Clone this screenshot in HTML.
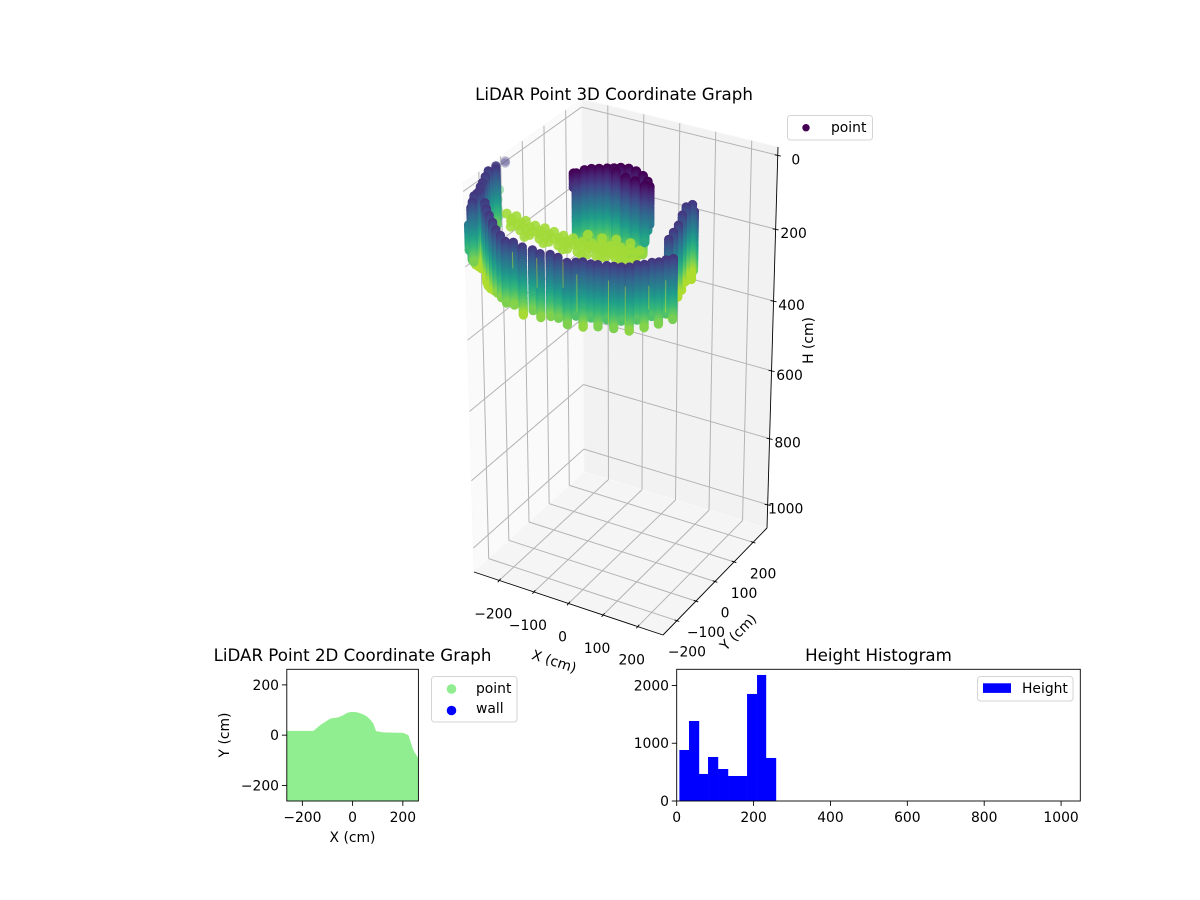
<!DOCTYPE html>
<html>
<head>
<meta charset="utf-8">
<title>LiDAR Point Graphs</title>
<style>
html,body{margin:0;padding:0;background:#fff;}
svg{display:block;}
text{font-family:"DejaVu Sans","Liberation Sans",sans-serif;fill:#000;}
</style>
</head>
<body>
<svg id="fig" xmlns="http://www.w3.org/2000/svg" width="1200" height="900" viewBox="0 0 1200 900">
<rect x="0" y="0" width="1200" height="900" fill="#fff"/>
<g id="g3d"></g>
<text x="614" y="100" font-size="16.67" text-anchor="middle">LiDAR Point 3D Coordinate Graph</text>
<g>
<rect x="787.5" y="115.5" width="85" height="24.5" rx="3" fill="#fff" fill-opacity="0.8" stroke="#d5d5d5"/>
<circle cx="806" cy="127.7" r="3.7" fill="#440154"/>
<text x="831" y="132" font-size="13.89">point</text>
</g>
<text x="554" y="666" font-size="13.89" text-anchor="middle" transform="rotate(18 554 662)">X (cm)</text>
<text x="738" y="637" font-size="13.89" text-anchor="middle" transform="rotate(-45 738 632)">Y (cm)</text>
<text x="813" y="340.5" font-size="13.89" text-anchor="middle" transform="rotate(-90 813 340.5)">H (cm)</text>

<g id="g2d"></g>
<text x="352.5" y="661" font-size="16.67" text-anchor="middle">LiDAR Point 2D Coordinate Graph</text>
<text x="352.5" y="842" font-size="13.89" text-anchor="middle">X (cm)</text>
<text x="229" y="735" font-size="13.89" text-anchor="middle" transform="rotate(-90 229 735)">Y (cm)</text>
<g>
<rect x="431.5" y="676.5" width="85.5" height="45.5" rx="3" fill="#fff" fill-opacity="0.8" stroke="#d5d5d5"/>
<circle cx="451.5" cy="689" r="4.8" fill="#90ee90"/>
<text x="476" y="693" font-size="13.89">point</text>
<circle cx="451.5" cy="710.5" r="4.8" fill="#0000ff"/>
<text x="476" y="713" font-size="13.89">wall</text>
</g>

<g id="ghist"></g>
<text x="878.5" y="661" font-size="16.67" text-anchor="middle">Height Histogram</text>
<g>
<rect x="977.5" y="676.5" width="95.5" height="24.5" rx="3" fill="#fff" fill-opacity="0.8" stroke="#d5d5d5"/>
<rect x="983" y="683.3" width="28" height="9.6" fill="#0000ff"/>
<text x="1022" y="693" font-size="13.89">Height</text>
</g>
</svg>
<script>
/* ---------- 3D chart data ---------- */
const xTicks3d = [-200, -100, 0, 100, 200];
const yTicks3d = [-200, -100, 0, 100, 200];
const zTicks3d = [0, 200, 400, 600, 800, 1000];

/* rear scan columns: x, y, top height, bottom height (cm) */
const rearX   = [-103, -98, -90, -79, -64, -48, -35, -22, -4, 19, 45, 70, 87, -21, 14, 43, 75];
const rearY   = [-52, -48, -23, -9, 1, 12, 21, 31, 37, 33, 20, -1, -22, 6, -9, -14, -24];
const rearTop = [0, 0, 0, 0, 0, 0, 0, 0, 0, 0, 0, 0, 0, 0, 0, 0, 0];
const rearBot = [37, 185, 195, 205, 215, 222, 230, 235, 238, 232, 210, 130, 100, 205, 205, 195, 150];

/* low floor-level return points */
const floorX = [-390, -366, -339, -318,
  -349, -322, -290, -258, -231, -202, -173, -146, -117, -93, -71, -47, -23, 1, 25,
  -319, -270, -226, -185, -144, -105, -68, -34, -3,
  -125, -86, -53, -14,
  -295, -248, -205, -164, -125, -86, -51, -18,
  -250, -194, -138, -85, -38, 8,
  -325, -296, -264, -234, -206, -177, -150, -121, -95, -72, -49, -25, -1, 23,
  -305, -276, -244, -214, -186, -157, -130, -101, -75, -52, -29, -5, 19, 43];
const floorY = [83, 36, -9, -38,
  48, 48, 38, 28, 28, 22, 17, 17, 12, 16, 25, 29, 33, 37, 41,
  18, 1, -7, -10, -13, -12, -5, 5, 21,
  51, 52, 63, 64,
  9, -3, -8, -11, -12, -8, 0, 13,
  -36, -42, -47, -49, -35, -23,
  30, 25, 15, 10, 7, 2, -1, -3, -4, 2, 9, 13, 17, 21,
  -7, -12, -22, -27, -30, -35, -38, -40, -41, -35, -28, -24, -20, -16];
const floorH = [175, 175, 175, 175,
  215, 215, 215, 215, 215, 215, 215, 215, 215, 215, 215, 215, 215, 215, 215,
  215, 215, 215, 215, 215, 215, 215, 215, 215,
  215, 215, 215, 215,
  215, 215, 215, 215, 215, 215, 215, 215,
  215, 215, 215, 215, 215, 215,
  215, 215, 215, 215, 215, 215, 215, 215, 215, 215, 215, 215, 215, 215,
  215, 215, 215, 215, 215, 215, 215, 215, 215, 215, 215, 215, 215, 215];

/* near wall scan columns */
const wallX   = [-317, -322, -312, -323, -313, -302, -295, -285, -283, -282, -256, -277, -269, -242, -222, -200, -174, -148, -124,
                 205, 183, 176, 189, 207, 215, 223,
                 -99, -81, -51, -24, 1, 23, 46,
                 93, 127, 163, 196, 222, 246, 268,
                 76, 106, 143, 179, 212, 236, 259, 280];
const wallY   = [-6, -41, -58, -74, -105, -136, -158, -180, -195, -210, -269, -246, -240, -228, -255, -281, -310, -340, -361,
                 -14, 16, -2, -44, -95, -134, -172,
                 -382, -376, -387, -387, -395, -386, -390,
                 -389, -378, -366, -355, -325, -296, -268,
                 -401, -379, -373, -361, -345, -315, -286, -253];
const wallTop = [40, 40, 40, 40, 40, 40, 40, 40, 40, 40, 40, 100, 40, 40, 40, 40, 40, 40, 40,
                 40, 40, 40, 40, 40, 40, 40,
                 40, 40, 40, 40, 40, 40, 40,
                 40, 40, 40, 40, 40, 40, 40,
                 40, 40, 40, 40, 40, 40, 40, 40];
const wallBot = [45, 175, 190, 214, 214, 214, 225, 248, 236, 224, 178, 168, 200, 253, 245, 235, 220, 206, 203,
                 196, 240, 240, 240, 230, 230, 237,
                 201, 204, 217, 198, 206, 201, 198,
                 180, 180, 180, 180, 183, 180, 180,
                 201, 209, 201, 201, 206, 204, 201, 198];

/* bright returns showing between neighbouring wall columns */
const streakX   = [105, 166, 199, 245, 278, 28, -18, 78];
const streakY   = [-406, -363, -341, -309, -286, -459, -491, -424];
const streakTop = [61, 79, 95, 95, 82, 17, 1, 27];
const streakBot = [157, 191, 198, 157, 165, 95, 43, 95];

/* ---------- 2D chart data ---------- */
const xTicks2d = [-200, 0, 200];
const yTicks2d = [-200, 0, 200];
const outlineX = [-262, -156, -129, -89, -56, -40, -23, -8, 5, 17, 30, 45, 56, 70, 83, 93, 122, 202, 222, 242, 262];
const outlineY = [17, 17, 40, 66, 71, 78, 88, 92, 92, 91, 87, 81, 75, 62, 46, 16, 11, 9, 0, -60, -93];

/* ---------- histogram data ---------- */
const histEdges  = [7, 32, 58, 81.5, 107.5, 133.5, 157.7, 183, 209, 232.3, 258.3];
const histCounts = [883, 1385, 468, 762, 554, 433, 433, 1853, 2182, 745];
const histXTicks = [0, 200, 400, 600, 800, 1000];
const histYTicks = [0, 1000, 2000];

/* ---------- helpers ---------- */
const NS = 'http://www.w3.org/2000/svg';
function mk(tag, attrs, parent) {
  const el = document.createElementNS(NS, tag);
  for (const k in attrs) el.setAttribute(k, attrs[k]);
  parent.appendChild(el);
  return el;
}
const g3d = document.getElementById('g3d');
const g2d = document.getElementById('g2d');
const gh = document.getElementById('ghist');
const fmt = v => String(v).replace('-', '\u2212');

/* ---------- 3D projection ---------- */
const xLo = -273, xHi = 273, yLo = -273, yHi = 273, zLo = -22, zHi = 1072;
const T00 = [463, 183], T10 = [667, 237], T01 = [581.5, 99], T11 = [778, 147];
const B00 = [474, 572], B10 = [663, 635], B01 = [584, 472], B11 = [767, 528];
function bil(a, b, c, d, u, v, i) {
  return a[i] * (1 - u) * (1 - v) + b[i] * u * (1 - v) + c[i] * (1 - u) * v + d[i] * u * v;
}
function project(x, y, z) {
  const u = (x - xLo) / (xHi - xLo);
  const v = (y - yLo) / (yHi - yLo);
  const t = (z - zLo) / (zHi - zLo);
  const s = t * 1.08 / (t * 1.08 + 1 - t);
  const out = [];
  for (let i = 0; i < 2; i++) {
    const top = bil(T00, T10, T01, T11, u, v, i);
    const bot = bil(B00, B10, B01, B11, u, v, i);
    out.push(top * (1 - s) + bot * s);
  }
  return out;
}
function poly3d(pts, fill, name) {
  const p = pts.map(q => project(q[0], q[1], q[2]).map(n => n.toFixed(1)).join(',')).join(' ');
  const el = mk('polygon', { points: p, fill: fill, stroke: '#f8f8f8', 'stroke-width': 0.8 }, g3d);
  
  
}
poly3d([[xLo, yLo, zLo], [xLo, yHi, zLo], [xLo, yHi, zHi], [xLo, yLo, zHi]], '#fafafa', 'left-pane');
poly3d([[xLo, yHi, zLo], [xHi, yHi, zLo], [xHi, yHi, zHi], [xLo, yHi, zHi]], '#f2f2f2', 'back-pane');
poly3d([[xLo, yLo, zHi], [xHi, yLo, zHi], [xHi, yHi, zHi], [xLo, yHi, zHi]], '#f5f5f5', 'floor-pane');

function line3d(a, b, stroke, w, name) {
  const p = project(a[0], a[1], a[2]);
  const q = project(b[0], b[1], b[2]);
  const el = mk('line', { x1: p[0], y1: p[1], x2: q[0], y2: q[1], stroke: stroke, 'stroke-width': w }, g3d);
  
  
}
xTicks3d.forEach(x => {
  line3d([x, yLo, zHi], [x, yHi, zHi], '#b4b4b4', 1, 'x-gridline-floor');
  line3d([x, yHi, zHi], [x, yHi, zLo], '#b4b4b4', 1, 'x-gridline-wall');
});
yTicks3d.forEach(y => {
  line3d([xLo, y, zHi], [xHi, y, zHi], '#b4b4b4', 1, 'y-gridline-floor');
  line3d([xLo, y, zHi], [xLo, y, zLo], '#b4b4b4', 1, 'y-gridline-wall');
});
zTicks3d.forEach(z => {
  line3d([xLo, yHi, z], [xHi, yHi, z], '#b4b4b4', 1, 'z-gridline-back');
  line3d([xLo, yHi, z], [xLo, yLo, z], '#b4b4b4', 1, 'z-gridline-left');
});
line3d([xLo, yLo, zHi], [xHi, yLo, zHi], '#000', 0.9, 'x-axis-line-3d');
line3d([xHi, yLo, zHi], [xHi, yHi, zHi], '#000', 0.9, 'y-axis-line-3d');
line3d([xHi, yHi, zHi], [xHi, yHi, zLo], '#000', 0.9, 'z-axis-line-3d');

function label3d(p, txt, name) {
  const el = mk('text', { x: p[0], y: p[1] + 5, 'font-size': 13.89, 'text-anchor': 'middle' }, g3d);
  el.textContent = txt;
  
  
}
function tick3d(p, dx, dy, name) {
  const el = mk('line', { x1: p[0] - dx, y1: p[1] - dy, x2: p[0] + dx, y2: p[1] + dy, stroke: '#000', 'stroke-width': 0.9 }, g3d);
  
  
}
xTicks3d.forEach(x => {
  const p = project(x, yLo, zHi);
  tick3d(p, 1.5, -1.8, 'x-tick-3d');
  label3d([p[0] - 6, p[1] + 33], fmt(x), 'x-tick-label-3d');
});
yTicks3d.forEach(y => {
  const p = project(xHi, y, zHi);
  tick3d(p, 2.3, 0.8, 'y-tick-3d');
  label3d([p[0] + 10, p[1] + 31], fmt(y), 'y-tick-label-3d');
});
zTicks3d.forEach(z => {
  const p = project(xHi, yHi, z);
  tick3d([p[0], p[1] + 0.2], 3, 0.6, 'z-tick-3d');
  label3d([p[0] + 18, p[1] + 4], fmt(z), 'z-tick-label-3d');
});

/* viridis colour scale */
const viridis = [[68,1,84],[72,40,120],[62,74,137],[49,104,142],[38,130,142],[31,158,137],[53,183,121],[109,205,89],[180,222,44],[253,231,37]];
const colorMax = 250;
function color(h) {
  const t = Math.max(0, Math.min(0.88, h / colorMax)) * (viridis.length - 1);
  const i = Math.min(viridis.length - 2, Math.floor(t));
  const f = t - i;
  const c = [0, 1, 2].map(k => Math.round(viridis[i][k] * (1 - f) + viridis[i + 1][k] * f));
  return 'rgb(' + c.join(',') + ')';
}
function alphaFor(x, y) {
  return Math.max(0.35, Math.min(1, 0.35 + (x - y + 311) * 0.018));
}
const cloud = mk('g', {}, g3d);


function dot(x, y, h, r, a) {
  const p = project(x, y, h);
  const el = mk('circle', { cx: p[0].toFixed(1), cy: p[1].toFixed(1), r: r, fill: color(h), 'fill-opacity': a }, cloud);
  
  
}
const hStep = 6;
function column(x, y, top, bot, r) {
  const a = alphaFor(x, y);
  for (let h = top; h < bot; h += hStep) dot(x, y, h, r, a);
  dot(x, y, bot, r, a);
}
rearX.forEach((x, i) => column(x, rearY[i], rearTop[i], rearBot[i], 5));
floorX.forEach((x, i) => dot(x, floorY[i], floorH[i], 5, floorH[i] < 200 ? 0.45 : 0.9));
wallX.forEach((x, i) => column(x, wallY[i], wallTop[i], wallBot[i], 4.7));
streakX.forEach((x, i) => {
  const p = project(x, streakY[i], streakTop[i]);
  const q = project(x, streakY[i], streakBot[i]);
  const el = mk('line', { x1: p[0], y1: p[1], x2: q[0], y2: q[1], stroke: '#b5de2b', 'stroke-width': 0.9, 'stroke-opacity': 0.6 }, cloud);
  
  
});

/* ---------- 2D chart ---------- */
const ax2 = { l: 286.8, r: 418.4, t: 669.3, b: 801 };
const x2Lo = -262, x2Hi = 262, y2Lo = -262, y2Hi = 262;
const sx2 = v => ax2.l + (v - x2Lo) / (x2Hi - x2Lo) * (ax2.r - ax2.l);
const sy2 = v => ax2.b - (v - y2Lo) / (y2Hi - y2Lo) * (ax2.b - ax2.t);
const ptsTop = outlineX.map((x, i) => sx2(x).toFixed(1) + ',' + sy2(outlineY[i]).toFixed(1));
const area = mk('polygon', { points: ptsTop.join(' ') + ' ' + ax2.r + ',' + ax2.b + ' ' + ax2.l + ',' + ax2.b, fill: '#90ee90' }, g2d);


const frame2 = mk('rect', { x: ax2.l, y: ax2.t, width: ax2.r - ax2.l, height: ax2.b - ax2.t, fill: 'none', stroke: '#000', 'stroke-width': 0.9 }, g2d);


xTicks2d.forEach(v => {
  const p = sx2(v);
  const t = mk('line', { x1: p, y1: ax2.b, x2: p, y2: ax2.b + 4.9, stroke: '#000', 'stroke-width': 0.9 }, g2d);
  
  
  const l = mk('text', { x: p, y: 822, 'font-size': 13.89, 'text-anchor': 'middle' }, g2d);
  l.textContent = fmt(v);
  
  
});
yTicks2d.forEach(v => {
  const p = sy2(v);
  const t = mk('line', { x1: ax2.l - 4.9, y1: p, x2: ax2.l, y2: p, stroke: '#000', 'stroke-width': 0.9 }, g2d);
  
  
  const l = mk('text', { x: 279, y: p + 5, 'font-size': 13.89, 'text-anchor': 'end' }, g2d);
  l.textContent = fmt(v);
  
  
});

/* ---------- histogram ---------- */
const axH = { l: 676.7, r: 1080.3, t: 669.3, b: 801 };
const hxHi = 1050, hyHi = 2280;
const sxH = v => axH.l + v / hxHi * (axH.r - axH.l);
const syH = v => axH.b - v / hyHi * (axH.b - axH.t);
histCounts.forEach((c, i) => {
  const x0 = sxH(histEdges[i]);
  const x1 = sxH(histEdges[i + 1]);
  const y = syH(c);
  const b = mk('rect', { x: x0, y: y, width: x1 - x0 + 0.2, height: axH.b - y, fill: '#0000ff' }, gh);
  
  
});
const frameH = mk('rect', { x: axH.l, y: axH.t, width: axH.r - axH.l, height: axH.b - axH.t, fill: 'none', stroke: '#000', 'stroke-width': 0.9 }, gh);


histXTicks.forEach(v => {
  const p = sxH(v);
  const t = mk('line', { x1: p, y1: axH.b, x2: p, y2: axH.b + 4.9, stroke: '#000', 'stroke-width': 0.9 }, gh);
  
  
  const l = mk('text', { x: p, y: 822, 'font-size': 13.89, 'text-anchor': 'middle' }, gh);
  l.textContent = fmt(v);
  
  
});
histYTicks.forEach(v => {
  const p = syH(v);
  const t = mk('line', { x1: axH.l - 4.9, y1: p, x2: axH.l, y2: p, stroke: '#000', 'stroke-width': 0.9 }, gh);
  
  
  const l = mk('text', { x: 669, y: p + 5, 'font-size': 13.89, 'text-anchor': 'end' }, gh);
  l.textContent = fmt(v);
  
  
});
</script>
</body>
</html>
